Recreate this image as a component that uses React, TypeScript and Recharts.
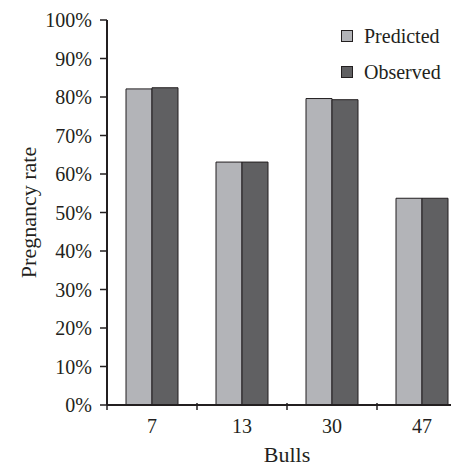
import React from 'react';
import { BarChart, Bar, XAxis, YAxis } from 'recharts';

const bulls = ['7', '13', '30', '47'];
const predicted = [82.1, 63.1, 79.6, 53.7];
const observed = [82.4, 63.1, 79.3, 53.7];
const yTicks = [0, 10, 20, 30, 40, 50, 60, 70, 80, 90, 100];
const seriesNames = ['Predicted', 'Observed'];

const data = bulls.map((b, i) => ({ bull: b, predicted: predicted[i], observed: observed[i] }));

const FONT = '"Times New Roman", "Liberation Serif", serif';
const INK = '#231f20';
const LIGHT = '#b3b4b8';
const DARK = '#606062';
const seriesColors = [LIGHT, DARK];

const XTick = (props: any) => {
  const { x, y, payload } = props;
  const half = payload && payload.offset ? payload.offset : 45;
  return (
    <g>
      <line x1={x - half} y1={y - 10} x2={x - half} y2={y - 3} stroke={INK} strokeWidth={1.5} />
      <text x={x} y={y + 20} textAnchor="middle" fontFamily={FONT} fontSize={20} fill={INK}>
        {payload.value}
      </text>
    </g>
  );
};

const LegendBox = () => (
  <div
    style={{
      position: 'absolute',
      top: 10,
      left: 333,
      fontFamily: FONT,
      fontSize: 20,
      color: INK,
      lineHeight: 1,
    }}
  >
    {seriesNames.map((name, i) => (
      <div key={name} style={{ display: 'flex', alignItems: 'center', height: 36 }}>
        <span
          style={{
            display: 'inline-block',
            width: 10,
            height: 10,
            background: seriesColors[i],
            border: `1px solid ${INK}`,
            marginRight: 11,
          }}
        />
        <span>{name}</span>
      </div>
    ))}
  </div>
);

export default function App() {
  return (
    <div style={{ position: 'relative', width: 451, height: 458, overflow: 'hidden' }}>
      <BarChart
        width={459}
        height={458}
        data={data}
        margin={{ top: 12, right: 0, bottom: 0, left: 0 }}
        barGap={0}
        barSize={26}
      >
        <XAxis
          dataKey="bull"
          height={61}
          axisLine={{ stroke: INK, strokeWidth: 2 }}
          tickLine={false}
          tick={<XTick />}
          interval={0}
          label={{
            value: 'Bulls',
            position: 'insideBottom',
            offset: 4,
            style: { fontFamily: FONT, fontSize: 22, fill: INK },
          }}
        />
        <YAxis
          width={99}
          domain={[0, 100]}
          ticks={yTicks}
          interval={0}
          tickFormatter={(v: number) => `${v}%`}
          axisLine={{ stroke: INK, strokeWidth: 2 }}
          tickLine={{ stroke: INK, strokeWidth: 1.5 }}
          tickSize={7}
          tickMargin={8}
          tick={{ fontFamily: FONT, fontSize: 20, fill: INK }}
          label={{
            value: 'Pregnancy rate',
            angle: -90,
            position: 'insideLeft',
            offset: 20,
            style: { fontFamily: FONT, fontSize: 22, fill: INK, textAnchor: 'middle' },
          }}
        />
        <Bar dataKey="predicted" name={seriesNames[0]} fill={LIGHT} stroke={INK} strokeWidth={1} isAnimationActive={false} />
        <Bar dataKey="observed" name={seriesNames[1]} fill={DARK} stroke={INK} strokeWidth={1} isAnimationActive={false} />
      </BarChart>
      <LegendBox />
    </div>
  );
}
